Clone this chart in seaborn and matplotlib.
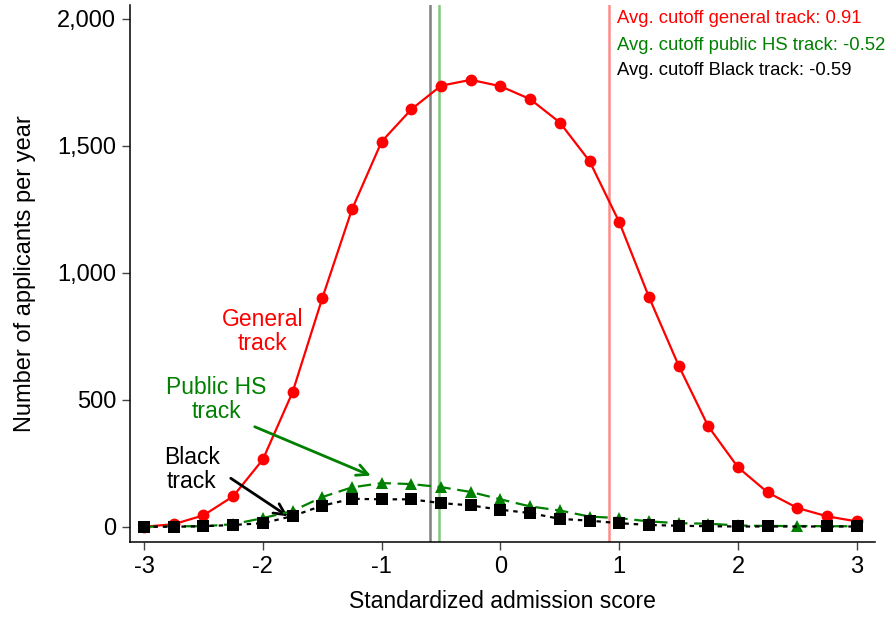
import matplotlib
matplotlib.use("Agg")
import matplotlib.pyplot as plt
import seaborn as sns
import pandas as pd
import numpy as np
from matplotlib.ticker import FuncFormatter

scores = [-3, -2.75, -2.5, -2.25, -2, -1.75, -1.5, -1.25, -1, -0.75, -0.5, -0.25,
          0, 0.25, 0.5, 0.75, 1, 1.25, 1.5, 1.75, 2, 2.25, 2.5, 2.75, 3]
general = [0, 10, 45, 120, 265, 530, 900, 1250, 1517, 1644, 1737, 1760,
           1735, 1684, 1592, 1440, 1200, 905, 635, 395, 234, 135, 74, 41, 21]
public_hs = [0, 2, 2, 10, 34, 62, 117, 155, 172, 168, 156, 137,
             108, 80, 64, 40, 34, 21, 14, 12, 5, 3, 3, 2, 2]
black_scores = [-3, -2.75, -2.5, -2.25, -2, -1.75, -1.5, -1.25, -1, -0.75, -0.5, -0.25,
                0, 0.25, 0.5, 0.75, 1, 1.25, 1.5, 1.75, 2, 2.25, 2.75, 3]
black = [0, 0, 2, 7, 14, 42, 83, 110, 108, 108, 93, 84,
         67, 54, 31, 24, 14, 7, 4, 2, 1, 1, 1, 1]

cutoffs = {"general": 0.91, "public": -0.52, "black": -0.59}

sns.set_theme(style="white")
plt.rcParams["font.family"] = ["Liberation Sans", "DejaVu Sans"]
plt.rcParams["axes.unicode_minus"] = False
plt.rcParams["text.color"] = "black"
plt.rcParams["axes.labelcolor"] = "black"
plt.rcParams["xtick.color"] = "black"
plt.rcParams["ytick.color"] = "black"

fig = plt.figure(figsize=(8.91, 6.17), dpi=100)
ax = fig.add_axes([0.146, 0.122, 0.836, 0.870])

# cutoff lines
ax.axvline(cutoffs["black"], color="#808080", lw=1.8, zorder=1)
ax.axvline(cutoffs["public"], color="#7fc97f", lw=1.8, zorder=1)
ax.axvline(cutoffs["general"], color="#ff8c8c", lw=1.8, zorder=1)

df_g = pd.DataFrame({"x": scores, "y": general})
df_p = pd.DataFrame({"x": scores, "y": public_hs})
df_b = pd.DataFrame({"x": black_scores, "y": black})

sns.lineplot(data=df_g, x="x", y="y", ax=ax, color="red", lw=1.6,
             marker="o", markersize=8.5, markeredgewidth=0, zorder=3)
sns.lineplot(data=df_p, x="x", y="y", ax=ax, color="green", lw=1.6,
             marker="^", markersize=8.5, markeredgewidth=0, zorder=4)
ax.lines[-1].set_dashes((6, 3))
sns.lineplot(data=df_b, x="x", y="y", ax=ax, color="black", lw=1.6,
             marker="s", markersize=8, markeredgewidth=0, zorder=5)
ax.lines[-1].set_dashes((2, 2.2))

ax.set_xlim(-3.118, 3.153)
ax.set_ylim(-59, 2055)
ax.set_xticks([-3, -2, -1, 0, 1, 2, 3])
ax.set_yticks([0, 500, 1000, 1500, 2000])
ax.yaxis.set_major_formatter(FuncFormatter(lambda v, p: f"{int(v):,}"))
ax.tick_params(axis="both", which="major", direction="out", length=6, width=1,
               color="#444444", labelsize=17, left=True, bottom=True, pad=4)
ax.set_xlabel("Standardized admission score", fontsize=16.5, labelpad=9)
ax.set_ylabel("Number of applicants per year", fontsize=17, labelpad=15)
for s in ["top", "right"]:
    ax.spines[s].set_visible(False)
for s in ["left", "bottom"]:
    ax.spines[s].set_color("black")
    ax.spines[s].set_linewidth(1.1)

# labels
ax.text(-2.0, 768, "General\ntrack", color="red", fontsize=16.5, ha="center",
        va="center", linespacing=1.05)
ax.text(-2.39, 500, "Public HS\ntrack", color="green", fontsize=16.5, ha="center",
        va="center", linespacing=1.05)
ax.text(-2.6, 224, "Black\ntrack", color="black", fontsize=16.5, ha="center",
        va="center", linespacing=1.05)
ax.annotate("", xy=(-1.07, 197), xytext=(-2.09, 398),
            arrowprops=dict(arrowstyle="->", color="green", lw=2,
                            mutation_scale=20))
ax.annotate("", xy=(-1.77, 35), xytext=(-2.29, 197),
            arrowprops=dict(arrowstyle="->", color="black", lw=2,
                            mutation_scale=20))

ax.text(0.98, 2000, "Avg. cutoff general track: 0.91", color="red",
        fontsize=13.3, ha="left", va="center")
ax.text(0.98, 1894, "Avg. cutoff public HS track: -0.52", color="green",
        fontsize=13.3, ha="left", va="center")
ax.text(0.98, 1795, "Avg. cutoff Black track: -0.59", color="black",
        fontsize=13.3, ha="left", va="center")

fig.savefig("out.png", dpi=100)
